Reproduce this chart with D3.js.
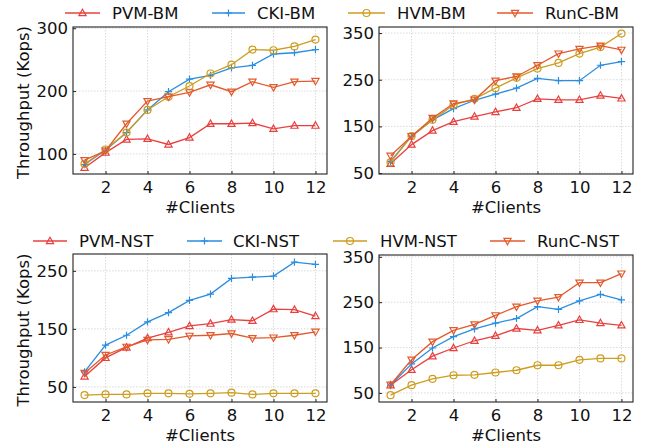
<!DOCTYPE html>
<html>
<head>
<meta charset="utf-8">
<script src="https://cdn.jsdelivr.net/npm/d3@7"></script>
<style>
  body { margin: 0; background: #fff; }
  svg text { font-family: "DejaVu Sans", sans-serif; fill: #111; }
</style>
</head>
<body>
<div id="chart"></div>
<script>

var clients = [1, 2, 3, 4, 5, 6, 7, 8, 9, 10, 11, 12];

// top-left panel (BM)
var pvmBmA  = [78, 102, 123, 124, 115, 126, 148, 148, 149, 140, 145, 145];
var ckiBmA  = [83, 106, 134, 170, 199, 219, 225, 237, 241, 259, 261, 266];
var hvmBmA  = [84, 107, 134, 170, 191, 208, 228, 242, 266, 265, 271, 282];
var runcBmA = [90, 105, 148, 184, 191, 198, 210, 199, 215, 206, 215, 216];

// top-right panel (BM)
var pvmBmB  = [70, 111, 141, 160, 171, 181, 190, 209, 207, 207, 216, 210];
var ckiBmB  = [75, 129, 164, 188, 206, 219, 232, 253, 248, 248, 281, 289];
var hvmBmB  = [73, 129, 164, 196, 209, 232, 254, 274, 286, 306, 320, 349];
var runcBmB = [87, 129, 168, 199, 207, 248, 257, 281, 306, 316, 323, 314];

// bottom-left panel (NST)
var pvmNstA  = [68, 100, 118, 134, 144, 155, 159, 166, 164, 184, 183, 172];
var ckiNstA  = [76, 122, 139, 162, 178, 199, 210, 237, 239, 241, 265, 261];
var hvmNstA  = [36, 37, 37, 39, 39, 38, 39, 40, 37, 39, 39, 39];
var runcNstA = [74, 105, 119, 131, 132, 138, 139, 142, 134, 135, 139, 145];

// bottom-right panel (NST)
var pvmNstB  = [67, 101, 131, 149, 165, 176, 192, 188, 199, 211, 204, 199];
var ckiNstB  = [67, 114, 149, 174, 191, 204, 214, 240, 234, 253, 267, 255];
var hvmNstB  = [45, 67, 81, 89, 90, 95, 100, 111, 111, 123, 126, 126];
var runcNstB = [68, 123, 163, 188, 201, 221, 240, 253, 261, 293, 293, 313];

var xTicks = [2, 4, 6, 8, 10, 12];
var yTicksA = [100, 200, 300];
var yTicksB = [50, 150, 250, 350];
var yTicksC = [50, 150, 250];
var yTicksD = [50, 150, 250, 350];

var namesBm  = ["PVM-BM", "CKI-BM", "HVM-BM", "RunC-BM"];
var namesNst = ["PVM-NST", "CKI-NST", "HVM-NST", "RunC-NST"];

var colors  = ["#e8403f", "#2b8de0", "#cc9d1f", "#e35a2c"];
var markers = ["up", "plus", "circle", "down"];

var W = 652, H = 446;
var fs = "16.5px";

var svg = d3.select("#chart").append("svg")
    .attr("width", W)
    .attr("height", H);

// draws one marker shape at 0,0 inside group g
function drawMarker(g, kind, color) {
  if (kind == "up") {
    g.append("path").attr("d", "M0,-3.8 L3.6,2.6 L-3.6,2.6 Z")
      .attr("fill", "none").attr("stroke", color).attr("stroke-width", 1.2);
  } else if (kind == "down") {
    g.append("path").attr("d", "M0,3.8 L3.6,-2.6 L-3.6,-2.6 Z")
      .attr("fill", "none").attr("stroke", color).attr("stroke-width", 1.2);
  } else if (kind == "circle") {
    g.append("circle").attr("r", 3.5)
      .attr("fill", "none").attr("stroke", color).attr("stroke-width", 1.2);
  } else {
    g.append("path").attr("d", "M-3.6,0 L3.6,0 M0,-3.6 L0,3.6")
      .attr("fill", "none").attr("stroke", color).attr("stroke-width", 1.2);
  }
}

function panel(box, yDomain, yTicks, series, showYLabel) {
  var x = d3.scaleLinear().domain([0.45, 12.55]).range([box.left, box.right]);
  var y = d3.scaleLinear().domain(yDomain).range([box.bottom, box.top]);

  var g = svg.append("g");

  // grid
  g.selectAll("line.gx").data(xTicks).enter().append("line")
    .attr("x1", function(d){ return x(d); }).attr("x2", function(d){ return x(d); })
    .attr("y1", box.top).attr("y2", box.bottom)
    .attr("stroke", "#d0d0d0").attr("stroke-width", 0.8).attr("stroke-dasharray", "1.5,1.5");
  g.selectAll("line.gy").data(yTicks).enter().append("line")
    .attr("y1", function(d){ return y(d); }).attr("y2", function(d){ return y(d); })
    .attr("x1", box.left).attr("x2", box.right)
    .attr("stroke", "#d0d0d0").attr("stroke-width", 0.8).attr("stroke-dasharray", "1.5,1.5");

  // lines + markers
  var line = d3.line()
    .x(function(d, i){ return x(clients[i]); })
    .y(function(d){ return y(d); });

  series.forEach(function(s, k) {
    g.append("path").datum(s)
      .attr("d", line)
      .attr("fill", "none")
      .attr("stroke", colors[k])
      .attr("stroke-width", 1.3);
    s.forEach(function(v, i) {
      var m = g.append("g").attr("transform", "translate(" + x(clients[i]) + "," + y(v) + ")");
      drawMarker(m, markers[k], colors[k]);
    });
  });

  // axes with inward ticks
  var xAxis = d3.axisBottom(x).tickValues(xTicks).tickSizeInner(-3).tickSizeOuter(0).tickPadding(7);
  var yAxis = d3.axisLeft(y).tickValues(yTicks).tickSizeInner(-3).tickSizeOuter(0).tickPadding(5);

  var gx = g.append("g").attr("transform", "translate(0," + box.bottom + ")").call(xAxis);
  var gy = g.append("g").attr("transform", "translate(" + box.left + ",0)").call(yAxis);
  [gx, gy].forEach(function(a) {
    a.select(".domain").remove();
    a.selectAll("text").style("font-size", fs).attr("fill", "#111");
    a.selectAll("line").attr("stroke", "#222");
  });

  // frame
  g.append("rect")
    .attr("x", box.left).attr("y", box.top)
    .attr("width", box.right - box.left).attr("height", box.bottom - box.top)
    .attr("fill", "none").attr("stroke", "#222").attr("stroke-width", 1.1);

  g.append("text")
    .attr("x", (box.left + box.right) / 2)
    .attr("y", box.bottom + 39)
    .attr("text-anchor", "middle")
    .style("font-size", fs)
    .text("#Clients");

  if (showYLabel) {
    g.append("text")
      .attr("transform", "translate(29," + ((box.top + box.bottom) / 2 + 2) + ") rotate(-90)")
      .attr("text-anchor", "middle")
      .style("font-size", fs)
      .text("Throughput (Kops)");
  }
}

function legend(y, names, linePos) {
  names.forEach(function(n, k) {
    var lp = linePos[k];
    svg.append("line")
      .attr("x1", lp[0]).attr("x2", lp[1]).attr("y1", y).attr("y2", y)
      .attr("stroke", colors[k]).attr("stroke-width", 1.3);
    var m = svg.append("g").attr("transform", "translate(" + ((lp[0] + lp[1]) / 2) + "," + y + ")");
    drawMarker(m, markers[k], colors[k]);
    svg.append("text")
      .attr("x", lp[2]).attr("y", y + 6)
      .style("font-size", fs)
      .text(n);
  });
}

panel({left: 73, right: 327, top: 27, bottom: 174}, [68, 302], yTicksA,
      [pvmBmA, ckiBmA, hvmBmA, runcBmA], true);
panel({left: 379, right: 633, top: 27, bottom: 174}, [48, 363], yTicksB,
      [pvmBmB, ckiBmB, hvmBmB, runcBmB], false);
panel({left: 73, right: 327, top: 254, bottom: 402}, [24, 279], yTicksC,
      [pvmNstA, ckiNstA, hvmNstA, runcNstA], true);
panel({left: 379, right: 633, top: 255, bottom: 402}, [30, 354], yTicksD,
      [pvmNstB, ckiNstB, hvmNstB, runcNstB], false);

legend(13, namesBm, [[65, 100, 112], [212, 245, 257], [348, 385, 397], [497, 533, 545]]);
legend(241, namesNst, [[33, 67, 79], [187, 222, 233], [333, 367, 380], [490, 525, 537]]);

</script>
</body>
</html>
